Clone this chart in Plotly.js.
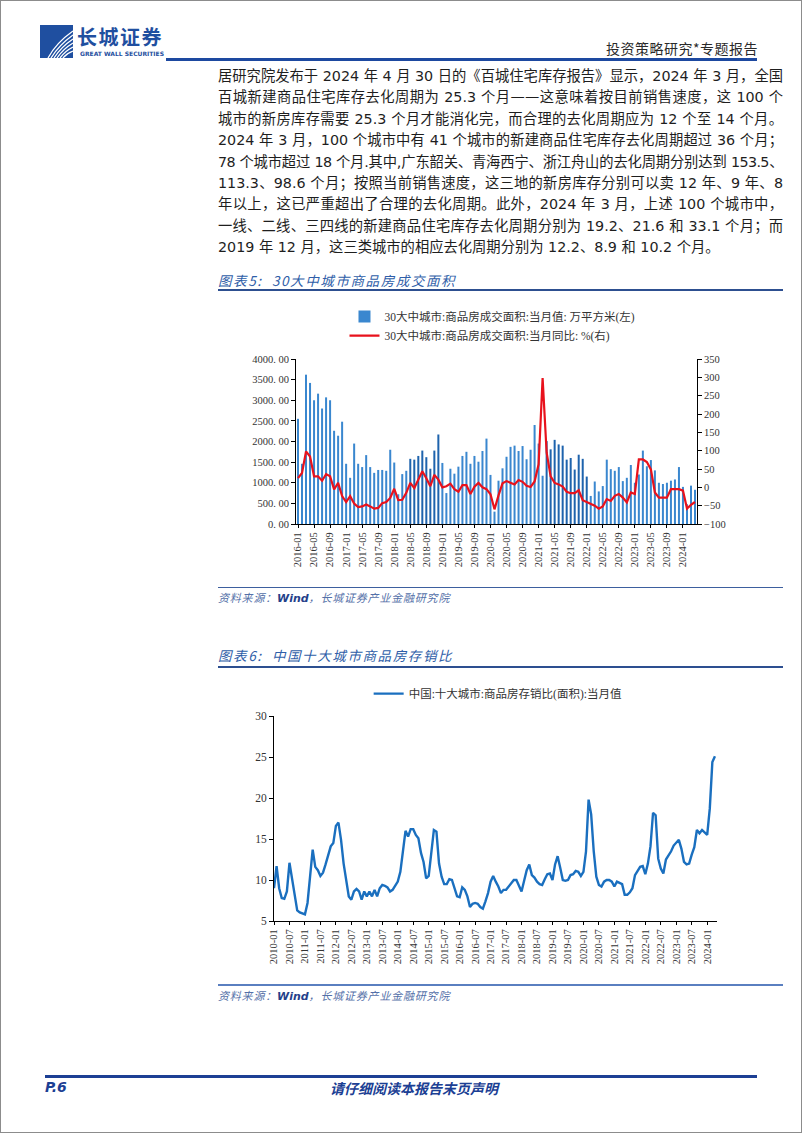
<!DOCTYPE html>
<html><head><meta charset="utf-8">
<script src="https://cdn.plot.ly/plotly-3.0.1.min.js"></script>
<style>
html,body{margin:0;padding:0;background:#fff;}
#page{position:relative;width:802px;height:1133px;overflow:hidden;font-family:"Noto Sans CJK SC",sans-serif;}
#frame{position:absolute;left:0;top:0;width:802px;height:1133px;box-sizing:border-box;border:1px solid #8c8c8c;pointer-events:none;z-index:10;}
.abs{position:absolute;}
#para{position:absolute;left:218px;top:66px;width:565px;font-family:"DejaVu Sans","Noto Sans CJK SC",sans-serif;font-size:14.3px;color:#1e1e1e;line-height:21.4px;}
#para div{white-space:nowrap;text-align:justify;text-align-last:justify;}
#para div.last{text-align-last:left;}
.cap{position:absolute;left:218px;font-size:13.5px;font-style:italic;color:#2f5ea8;letter-spacing:1.6px;white-space:nowrap;}
.rule{position:absolute;left:218px;width:565px;height:1.5px;background:#2d4f90;}
.src{position:absolute;left:218px;font-size:11px;font-style:italic;color:#5470a8;white-space:nowrap;letter-spacing:0.8px;}
.src b{font-family:"DejaVu Sans";font-weight:bold;color:#24408a;letter-spacing:0;}
</style>
</head>
<body>
<div id="page">
  <!-- header -->
  <svg class="abs" style="left:40px;top:25px" width="33" height="33" viewBox="0 0 33 33">
    <rect x="0" y="0" width="33" height="33" fill="#1f4fa0"/>
    <g stroke="#fff" stroke-width="1.3" fill="none">
      <path d="M8 33 Q16 18 33 6"/>
      <path d="M11 33 Q19 20 33 10"/>
      <path d="M14 33 Q21 22 33 14"/>
      <path d="M17 33 Q23 24 33 18"/>
      <path d="M20 33 Q25 26 33 22"/>
      <path d="M23 33 Q27 28 33 26"/>
    </g>
  </svg>
  <div class="abs" style="left:77px;top:26px;font-size:20px;line-height:22px;font-weight:bold;color:#1f4fa0;letter-spacing:1.5px;white-space:nowrap;">长城证券</div>
  <div class="abs" style="left:80px;top:50px;font-family:'DejaVu Sans';font-size:6px;line-height:7px;font-weight:bold;color:#1f4fa0;white-space:nowrap;">GREAT WALL SECURITIES</div>
  <div class="abs" style="left:606px;top:38px;font-size:14px;color:#2a2a2a;white-space:nowrap;letter-spacing:0.5px;">投资策略研究*专题报告</div>
  <div class="abs" style="left:166px;top:58px;width:591px;height:2.5px;background:#1d49a0;"></div>

  <!-- paragraph -->
  <div id="para">
    <div>居研究院发布于 2024 年 4 月 30 日的《百城住宅库存报告》显示，2024 年 3 月，全国</div>
    <div>百城新建商品住宅库存去化周期为 25.3 个月——这意味着按目前销售速度，这 100 个</div>
    <div>城市的新房库存需要 25.3 个月才能消化完，而合理的去化周期应为 12 个至 14 个月。</div>
    <div>2024 年 3 月，100 个城市中有 41 个城市的新建商品住宅库存去化周期超过 36 个月；</div>
    <div style="letter-spacing:-0.6px">78 个城市超过 18 个月.其中,广东韶关、青海西宁、浙江舟山的去化周期分别达到 153.5、</div>
    <div>113.3、98.6 个月；按照当前销售速度，这三地的新房库存分别可以卖 12 年、9 年、8</div>
    <div>年以上，这已严重超出了合理的去化周期。此外，2024 年 3 月，上述 100 个城市中，</div>
    <div>一线、二线、三四线的新建商品住宅库存去化周期分别为 19.2、21.6 和 33.1 个月；而</div>
    <div class="last">2019 年 12 月，这三类城市的相应去化周期分别为 12.2、8.9 和 10.2 个月。</div>
  </div>

  <!-- chart 5 -->
  <div class="cap" style="top:270px;">图表5:&nbsp; 30大中城市商品房成交面积</div>
  <div class="rule" style="top:289px;"></div>
  <div id="chart1" class="abs" style="left:0;top:290px;width:802px;height:300px;"></div>
  <div class="rule" style="top:587px;height:1.2px;background:#3d5f9e;"></div>
  <div class="src" style="top:589px;">资料来源：<b><i>Wind</i></b>，长城证券产业金融研究院</div>

  <!-- chart 6 -->
  <div class="cap" style="top:645px;">图表6:&nbsp; 中国十大城市商品房存销比</div>
  <div class="rule" style="top:666px;"></div>
  <div id="chart2" class="abs" style="left:0;top:680px;width:802px;height:320px;"></div>
  <div class="rule" style="top:984px;height:1.5px;background:#5a7fc0;"></div>
  <div class="src" style="top:987px;">资料来源：<b><i>Wind</i></b>，长城证券产业金融研究院</div>

  <!-- footer -->
  <div class="abs" style="left:45px;top:1075px;width:712px;height:2.5px;background:#1c3f94;"></div>
  <div class="abs" style="left:45px;top:1079px;font-family:'DejaVu Sans';font-size:14px;font-weight:bold;font-style:italic;color:#1c3f94;">P.6</div>
  <div class="abs" style="left:330px;top:1078px;font-size:14px;font-weight:bold;font-style:italic;color:#1c3f94;white-space:nowrap;">请仔细阅读本报告末页声明</div>

  <div id="frame"></div>
</div>

<script>
// ---------------- Chart 5 data: 2016-01 .. 2024-04 ----------------
const start1 = [2016, 1];
const areaMonthly = [
  2550,1460,3620,3420,3000,3160,2800,3070,3000,2260,2140,2480,
  1460,1120,1950,1460,1380,1670,1380,1240,1310,1310,1290,1800,
  1490,720,1210,1290,1580,1560,1650,1780,1620,1340,1780,2170,
  1480,750,1340,1220,1390,1650,1750,1460,1650,1510,1770,2070,
  1190,300,1050,1350,1630,1870,1900,1770,1890,1570,1800,2400,
  1950,1170,2010,1810,2040,1930,1900,1560,1600,1320,1680,1580,
  1150,680,1030,790,920,1560,1330,1290,1380,1040,1120,1430,
  1000,1200,1780,1400,1550,1300,1000,970,1000,1050,1080,1380,
  900,480,930,830
];
const areaYoY = [
  25,39,98,84,30,30,18,36,30,-6,12,-24,
  -40,-24,-44,-54,-52,-47,-52,-58,-56,-43,-40,-29,
  -4,-35,-34,-15,12,-2,21,44,25,3,34,21,
  0,3,10,-5,-12,6,6,-18,2,12,0,-5,
  -19,-60,-22,11,17,13,8,20,15,4,1,16,
  63,298,95,30,12,8,2,-12,-16,-16,-8,-35,
  -40,-46,-50,-58,-52,-32,-37,-23,-18,-28,-41,-14,
  -18,76,76,69,49,-14,-28,-28,-28,-5,-5,-5,
  -9,-58,-48,-40
];
const ticks1 = ['2016-01','2016-05','2016-09','2017-01','2017-05','2017-09','2018-01','2018-05','2018-09',
  '2019-01','2019-05','2019-09','2020-01','2020-05','2020-09','2021-01','2021-05','2021-09',
  '2022-01','2022-05','2022-09','2023-01','2023-05','2023-09','2024-01'];
const leftTicks = [0,500,1000,1500,2000,2500,3000,3500,4000];
const leftTickLabels = ['0. 00','500. 00','1000. 00','1500. 00','2000. 00','2500. 00','3000. 00','3500. 00','4000. 00'];
const name1 = '30大中城市:商品房成交面积:当月值: 万平方米(左)';
const name2 = '30大中城市:商品房成交面积:当月同比: %(右)';

// ---------------- Chart 6 data: 2010-01 .. 2024-04 ----------------
const start2 = [2010, 1];
const stockSalesRatio = [
  9.0,11.7,9.0,7.8,7.7,8.6,12.1,10.2,8.4,6.3,6.05,5.9,
  5.8,7.2,10.4,13.7,11.6,11.2,10.5,10.9,11.9,13.0,14.1,14.5,
  16.6,17.0,14.9,12.0,9.8,8.0,7.6,8.6,8.9,8.6,7.6,8.6,
  8.0,8.6,8.0,8.8,8.0,9.0,9.4,9.3,9.1,8.6,8.8,9.3,
  9.8,11.0,13.3,16.0,15.3,16.2,16.2,15.5,15.1,13.3,12.2,10.2,
  10.5,13.3,16.1,15.9,12.0,10.4,9.5,9.5,10.1,10.0,8.9,8.0,
  7.9,9.1,8.8,8.0,6.7,7.1,7.2,7.1,6.7,6.5,7.4,8.4,
  9.8,10.5,9.8,9.2,8.4,8.8,8.8,9.2,9.5,10.0,10.0,9.3,
  8.6,9.9,11.2,11.9,10.6,10.3,9.8,9.5,9.4,10.1,10.7,10.8,
  10.0,11.9,12.9,11.5,10.0,9.9,10.0,10.6,10.7,11.1,11.0,10.5,
  11.0,13.5,19.8,18.0,13.5,10.4,9.4,9.2,9.8,10.0,10.0,9.8,
  9.2,9.8,9.6,9.5,8.2,8.2,8.5,9.0,10.6,11.1,11.6,11.7,
  10.7,12.0,14.1,18.2,17.9,12.6,11.4,10.8,12.5,13.0,13.5,14.2,
  14.6,14.9,13.8,12.2,11.9,12.0,13.1,14.0,16.1,15.7,16.1,15.8,
  15.5,18.7,24.4,25.1
];
const ticks2 = ['2010-01','2010-07','2011-01','2011-07','2012-01','2012-07','2013-01','2013-07','2014-01','2014-07',
  '2015-01','2015-07','2016-01','2016-07','2017-01','2017-07','2018-01','2018-07','2019-01','2019-07',
  '2020-01','2020-07','2021-01','2021-07','2022-01','2022-07','2023-01','2023-07','2024-01'];
const name3 = '中国:十大城市:商品房存销比(面积):当月值';

function monthLabels(start, count) {
  const out = [];
  let y = start[0], m = start[1];
  for (let i = 0; i < count; i++) {
    out.push(y + '-' + (m < 10 ? '0' + m : '' + m));
    m++; if (m > 12) { m = 1; y++; }
  }
  return out;
}
const months1 = monthLabels(start1, areaMonthly.length);
const months2 = monthLabels(start2, stockSalesRatio.length);

const serif = 'Liberation Serif, Noto Sans CJK SC, serif';
const tickFont = {family: serif, size: 10.5, color: '#333'};

// bar colours (style only)
const barColors = months1.map((m, i) => ((i >= 28 && i <= 35) || (i >= 62 && i <= 72)) ? '#1e63ad' : '#3a87cf');

Plotly.newPlot('chart1', [
  {type: 'bar', x: months1, y: areaMonthly, name: name1, marker: {color: barColors, line: {width: 0}}, yaxis: 'y'},
  {type: 'scatter', mode: 'lines', x: months1, y: areaYoY, name: name2, line: {color: '#e8121c', width: 2.2}, yaxis: 'y2'}
], {
  width: 802, height: 300,
  margin: {l: 296, r: 105, t: 69, b: 66, pad: 0, autoexpand: false},
  paper_bgcolor: 'rgba(0,0,0,0)', plot_bgcolor: 'rgba(0,0,0,0)',
  showlegend: true,
  legend: {x: 0.49, xanchor: 'center', y: 1.345, yanchor: 'top', orientation: 'v',
    font: {family: serif, size: 11.5, color: '#333'}, bgcolor: 'rgba(0,0,0,0)', itemwidth: 30, tracegroupgap: 0},
  bargap: 0.5,
  xaxis: {type: 'category', range: [-0.5, areaMonthly.length - 0.5], tickmode: 'array', tickvals: ticks1, ticktext: ticks1,
    tickangle: -90, ticks: 'outside', ticklen: 3, tickcolor: '#000', showline: true, linecolor: '#000', linewidth: 1,
    showgrid: false, zeroline: false, tickfont: tickFont, automargin: false},
  yaxis: {range: [0, 4000], tickmode: 'array', tickvals: leftTicks, ticktext: leftTickLabels, ticks: 'outside', ticklen: 4,
    tickcolor: '#000', showline: true, linecolor: '#000', linewidth: 1, showgrid: false, zeroline: false, tickfont: tickFont, automargin: false},
  yaxis2: {overlaying: 'y', side: 'right', range: [-100, 350], dtick: 50, ticks: 'outside', ticklen: 4, tickcolor: '#000',
    showline: true, linecolor: '#000', linewidth: 1, showgrid: false, zeroline: false, tickfont: tickFont, automargin: false}
}, {staticPlot: true});

Plotly.newPlot('chart2', [
  {type: 'scatter', mode: 'lines', x: months2, y: stockSalesRatio, name: name3, line: {color: '#1a6fbf', width: 2.4}}
], {
  width: 802, height: 320,
  margin: {l: 274, r: 85, t: 36, b: 79, pad: 0, autoexpand: false},
  paper_bgcolor: 'rgba(0,0,0,0)', plot_bgcolor: 'rgba(0,0,0,0)',
  showlegend: true,
  legend: {x: 0.506, xanchor: 'center', y: 1.18, yanchor: 'top', orientation: 'h',
    font: {family: serif, size: 11.5, color: '#333'}, bgcolor: 'rgba(0,0,0,0)'},
  xaxis: {type: 'category', range: [0, stockSalesRatio.length - 0.2], tickmode: 'array', tickvals: ticks2, ticktext: ticks2,
    tickangle: -90, ticks: 'outside', ticklen: 3, tickcolor: '#000', showline: true, linecolor: '#000', linewidth: 1,
    showgrid: false, zeroline: false, tickfont: tickFont, automargin: false},
  yaxis: {range: [5, 30], dtick: 5, ticks: 'outside', ticklen: 4, tickcolor: '#000', showline: true, linecolor: '#000',
    linewidth: 1, showgrid: false, zeroline: false, tickfont: {family: serif, size: 11.5, color: '#333'}, automargin: false}
}, {staticPlot: true});
</script>
</body></html>
